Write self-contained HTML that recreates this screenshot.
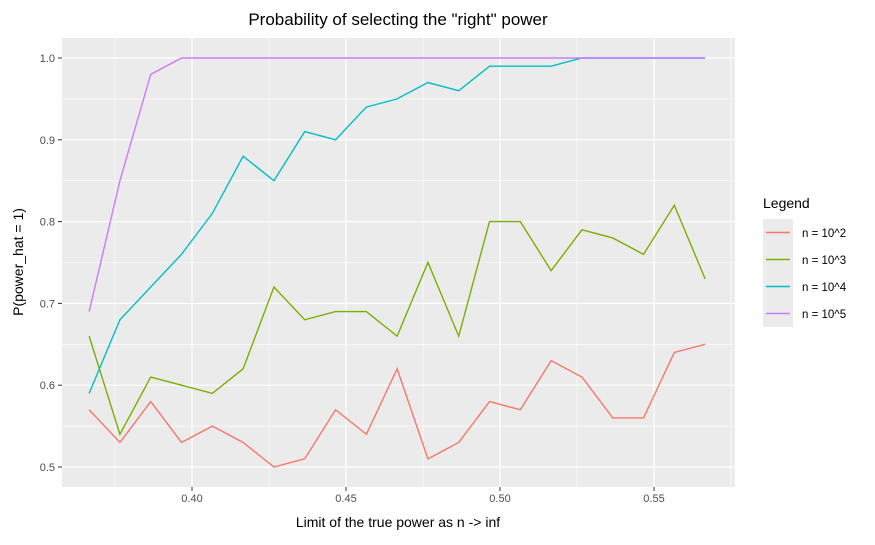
<!DOCTYPE html>
<html><head><meta charset="utf-8"><style>
body{margin:0;background:#fff;font-family:"Liberation Sans",Arial,sans-serif}
svg text{font-family:"Liberation Sans",Arial,sans-serif}
</style></head><body>
<svg id="chart" width="875" height="540"></svg>
<script>
const xValues=[0.3666,0.3766,0.3866,0.3966,0.4066,0.4166,0.4266,0.4366,0.4466,0.4566,0.4666,0.4766,0.4866,0.4966,0.5066,0.5166,0.5266,0.5366,0.5466,0.5566,0.5666];
const seriesN2=[0.57,0.53,0.58,0.53,0.55,0.53,0.50,0.51,0.57,0.54,0.62,0.51,0.53,0.58,0.57,0.63,0.61,0.56,0.56,0.64,0.65];
const seriesN3=[0.66,0.54,0.61,0.60,0.59,0.62,0.72,0.68,0.69,0.69,0.66,0.75,0.66,0.80,0.80,0.74,0.79,0.78,0.76,0.82,0.73];
const seriesN4=[0.59,0.68,0.72,0.76,0.81,0.88,0.85,0.91,0.90,0.94,0.95,0.97,0.96,0.99,0.99,0.99,1.0,1.0,1.0,1.0,1.0];
const seriesN5=[0.69,0.85,0.98,1.0,1.0,1.0,1.0,1.0,1.0,1.0,1.0,1.0,1.0,1.0,1.0,1.0,1.0,1.0,1.0,1.0,1.0];
const seriesNames=["n = 10^2","n = 10^3","n = 10^4","n = 10^5"];
const colors=["#F8766D","#7CAE00","#00BFC4","#C77CFF"];
const xTicks=[0.40,0.45,0.50,0.55];
const yTicks=[0.5,0.6,0.7,0.8,0.9,1.0];

const NS="http://www.w3.org/2000/svg";
const svg=document.getElementById('chart');
const L=62,R=735,T=38,B=487;
const sx=v=>192+(v-0.40)/0.05*154;
const sy=v=>467-(v-0.5)/0.1*81.8;
function mk(tag,attrs,parent){const e=document.createElementNS(NS,tag);for(const k in attrs)e.setAttribute(k,attrs[k]);(parent||svg).appendChild(e);return e;}

const panel=mk('rect',{x:L,y:T,width:R-L,height:B-T,fill:'#EBEBEB'});


// minor grid
for(let i=0;i<xTicks.length;i++){
  const m=xTicks[i]-0.025;
  mk('line',{x1:sx(m),x2:sx(m),y1:T,y2:B,stroke:'#fff','stroke-width':0.6});
}
mk('line',{x1:sx(0.575),x2:sx(0.575),y1:T,y2:B,stroke:'#fff','stroke-width':0.6});
for(let i=0;i<yTicks.length-1;i++){
  const m=yTicks[i]+0.05;
  mk('line',{x1:L,x2:R,y1:sy(m),y2:sy(m),stroke:'#fff','stroke-width':0.6});
}
xTicks.forEach(t=>{
  const g=mk('line',{x1:sx(t),x2:sx(t),y1:T,y2:B,stroke:'#fff','stroke-width':1.2});
  
  
  mk('line',{x1:sx(t),x2:sx(t),y1:B,y2:B+4,stroke:'#333'});
  const tx=mk('text',{x:sx(t),y:B+15,'text-anchor':'middle','font-size':11,fill:'#4D4D4D'});
  tx.textContent=t.toFixed(2);
  
  
});
yTicks.forEach(t=>{
  const g=mk('line',{x1:L,x2:R,y1:sy(t),y2:sy(t),stroke:'#fff','stroke-width':1.2});
  
  
  mk('line',{x1:L-4,x2:L,y1:sy(t),y2:sy(t),stroke:'#333'});
  const tx=mk('text',{x:L-7,y:sy(t)+4,'text-anchor':'end','font-size':11,fill:'#4D4D4D'});
  tx.textContent=t.toFixed(1);
  
  
});
const all=[seriesN2,seriesN3,seriesN4,seriesN5];
all.forEach((s,k)=>{
  const p=mk('polyline',{points:s.map((v,i)=>sx(xValues[i])+','+sy(v)).join(' '),fill:'none',stroke:colors[k],'stroke-width':1.4});
  
  
});
const title=mk('text',{x:398,y:25,'text-anchor':'middle','font-size':17,fill:'#000'});
title.textContent='Probability of selecting the "right" power';


const xt=mk('text',{x:398,y:527,'text-anchor':'middle','font-size':14,fill:'#000'});
xt.textContent='Limit of the true power as n -> inf';


const yt=mk('text',{x:0,y:0,'text-anchor':'middle','font-size':14,fill:'#000',transform:'translate(23,262) rotate(-90)'});
yt.textContent='P(power_hat = 1)';


const lt=mk('text',{x:763,y:208,'font-size':14,fill:'#000'});
lt.textContent='Legend';


seriesNames.forEach((n,k)=>{
  const y=219+k*27;
  const g=mk('g',{});
  
  
  mk('rect',{x:763,y:y,width:30,height:27,fill:'#EBEBEB'},g);
  mk('line',{x1:766,x2:790,y1:y+13.5,y2:y+13.5,stroke:colors[k],'stroke-width':1.6},g);
  const t=mk('text',{x:802,y:y+18,'font-size':11.5,fill:'#000'},g);
  t.textContent=n;
});
</script>
</body></html>
